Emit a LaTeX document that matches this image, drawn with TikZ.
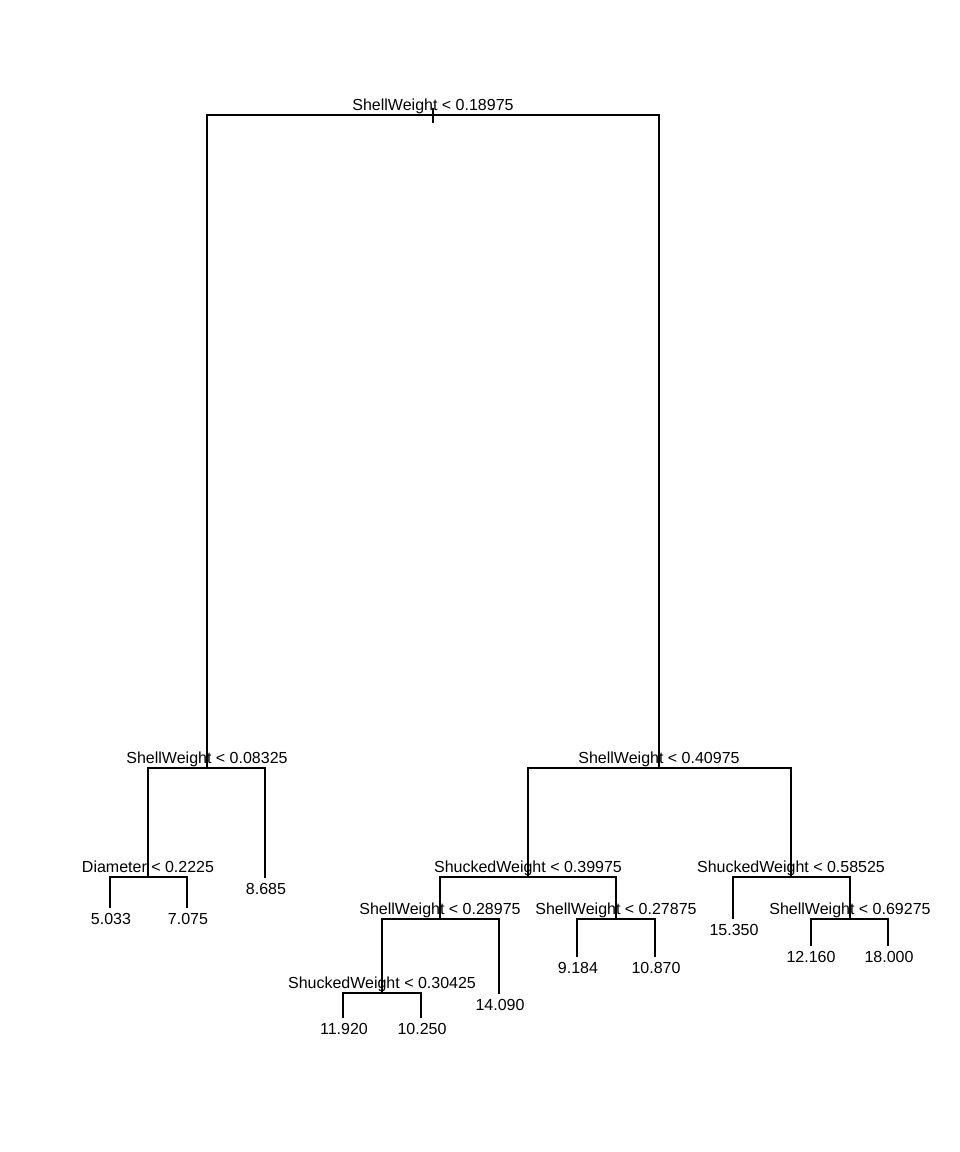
\documentclass[tikz,border=0pt]{standalone}
\usepackage{fontspec}
\setmainfont{Liberation Sans}
\usepackage{tikz}
\usetikzlibrary{positioning}

\begin{document}
\begin{tikzpicture}[x=1pt, y=-1pt,
        split/.style={anchor=base, inner sep=0pt, font=\fontsize{16}{19}\selectfont},
        leaf/.style={anchor=base, inner sep=0pt, font=\fontsize{16}{19}\selectfont},
        branch/.style={line width=1.1pt, line cap=rect}
    ]
    \useasboundingbox (0,0) rectangle (960,1152);

    % Node positions (splits at their bar, leaves at line end)
    \coordinate (n1) at (433,115);
    \coordinate (n2) at (207,768);
    \coordinate (n3) at (659,768);
    \coordinate (n4) at (148,877);
    \coordinate (n5) at (265,877);
    \coordinate (n8) at (110,907);
    \coordinate (n9) at (187,907);
    \coordinate (n6) at (528,877);
    \coordinate (n7) at (791,877);
    \coordinate (n12) at (440,919);
    \coordinate (n13) at (616,919);
    \coordinate (n14) at (733,918);
    \coordinate (n15) at (850,919);
    \coordinate (n24) at (382,993);
    \coordinate (n25) at (499,993);
    \coordinate (n26) at (577,956);
    \coordinate (n27) at (655,956);
    \coordinate (n30) at (811,945);
    \coordinate (n31) at (888,945);
    \coordinate (n48) at (343,1017);
    \coordinate (n49) at (421,1017);

    % Root stub
    \coordinate (rtop) at (433,109);
    \coordinate (rbot) at (433,122);
    \draw[branch] (rtop) -- (rbot);

    % Branches
    \foreach \p/\c in {n1/n2, n1/n3, n2/n4, n2/n5, n4/n8, n4/n9,
                       n3/n6, n3/n7, n6/n12, n6/n13, n7/n14, n7/n15,
                       n12/n24, n12/n25, n13/n26, n13/n27,
                       n15/n30, n15/n31, n24/n48, n24/n49} {
        \draw[branch] (\p) -| (\c);
    }

    % Split labels
    \node[split] (s1) at (433,110) {ShellWeight < 0.18975};
    \node[split] (s2) at (207,763) {ShellWeight < 0.08325};
    \node[split] (s3) at (659,763) {ShellWeight < 0.40975};
    \node[split] (s4) at (148,872) {Diameter < 0.2225};
    \node[split] (s6) at (528,872) {ShuckedWeight < 0.39975};
    \node[split] (s7) at (791,872) {ShuckedWeight < 0.58525};
    \node[split] (s12) at (440,914) {ShellWeight < 0.28975};
    \node[split] (s13) at (616,914) {ShellWeight < 0.27875};
    \node[split] (s15) at (850,914) {ShellWeight < 0.69275};
    \node[split] (s24) at (382,988) {ShuckedWeight < 0.30425};

    % Leaf values
    \node[leaf] (v8) at (111,924) {5.033};
    \node[leaf] (v9) at (188,924) {7.075};
    \node[leaf] (v5) at (266,894) {8.685};
    \node[leaf] (v48) at (344,1034) {11.920};
    \node[leaf] (v49) at (422,1034) {10.250};
    \node[leaf] (v25) at (500,1010) {14.090};
    \node[leaf] (v26) at (578,973) {9.184};
    \node[leaf] (v27) at (656,973) {10.870};
    \node[leaf] (v14) at (734,935) {15.350};
    \node[leaf] (v30) at (811,962) {12.160};
    \node[leaf] (v31) at (889,962) {18.000};
\end{tikzpicture}
\end{document}
